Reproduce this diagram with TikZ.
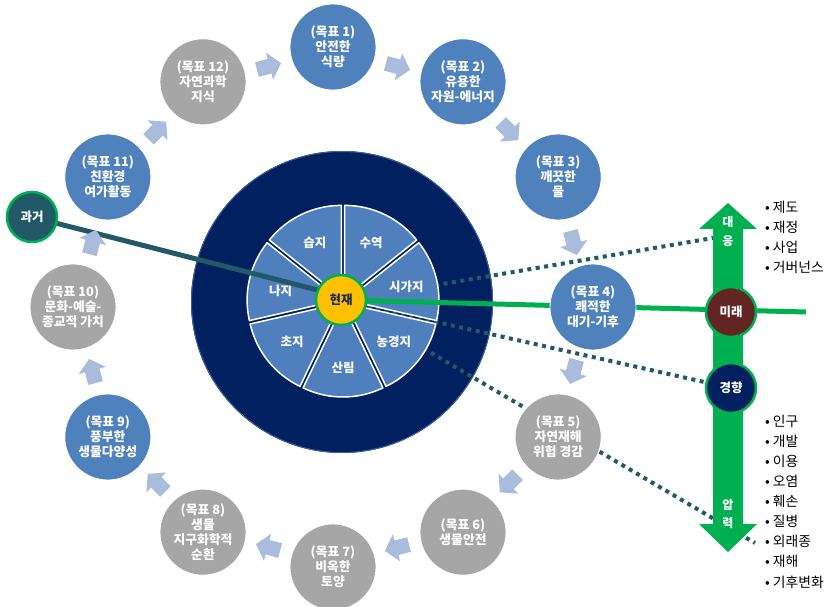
\documentclass[tikz,border=0pt]{standalone}
\usepackage{fontspec}
\setmainfont{Noto Sans CJK KR}
\usetikzlibrary{calc}

\definecolor{goalblue}{HTML}{4F81BD}
\definecolor{goalgray}{HTML}{A6A6A6}
\definecolor{flowblue}{HTML}{A9BCDC}
\definecolor{deepnavy}{HTML}{002060}
\definecolor{rimblue}{HTML}{3A5F98}
\definecolor{sectorblue}{HTML}{4F7FBC}
\definecolor{pastteal}{HTML}{215A66}
\definecolor{ecogreen}{HTML}{00B050}
\definecolor{nowyellow}{HTML}{FFC000}
\definecolor{nowtext}{HTML}{1A2A5A}
\definecolor{futurered}{HTML}{632523}

\tikzset{
  goal/.style={circle, minimum size=86pt, inner sep=0pt, draw=white, line width=0.8pt,
    text=white, align=center, font=\fontsize{12.8}{15}\selectfont\bfseries},
  bluegoal/.style={goal, fill=goalblue},
  graygoal/.style={goal, fill=goalgray},
  sector/.style={fill=sectorblue, draw=white, line width=1.5pt, line join=round},
  sectorlabel/.style={text=white, inner sep=0pt, font=\fontsize{12.5}{14}\selectfont\bfseries},
  timecircle/.style={circle, minimum size=50pt, inner sep=0pt, draw=ecogreen, line width=2.5pt,
    text=white, font=\fontsize{12.5}{14}\selectfont\bfseries},
  flowarrow/.style={fill=flowblue},
  dotline/.style={pastteal, line width=4pt, dash pattern=on 4pt off 4.5pt},
  arrowtext/.style={text=white, inner sep=0pt, font=\fontsize{12}{14}\selectfont\bfseries},
  listitem/.style={anchor=west, inner sep=0pt, font=\fontsize{13.8}{15}\selectfont},
}

\begin{document}
\begin{tikzpicture}[x=1pt,y=1pt]
\useasboundingbox (0,0) rectangle (827,606);

% reference points
\coordinate (O) at (333,299);      % centre of the ring of goals
\coordinate (W) at (343,305);      % centre of the land-use wheel
\coordinate (nowc) at (341,306);
\coordinate (pastend) at (341,310);
\coordinate (pastc) at (32,389);
\coordinate (futurec) at (731,294);
\coordinate (trendc) at (731,218);
\coordinate (greenend) at (806,294);
\coordinate (d1e) at (713,368);
\coordinate (d3e) at (755,63);

% dark outer disc
\fill[deepnavy] (342,304) circle[radius=151];
\draw[rimblue, line width=1pt] (342,304) circle[radius=150.5];

% dotted links from the present
\draw[dotline] (W) -- (d1e);
\draw[dotline] (W) -- (trendc);
\draw[dotline] (W) -- (d3e);

% land-use wheel: seven exploded sectors
\foreach \lbl/\rr [count=\k from 0] in {수역/65,시가지/65,농경지/65,산림/67,초지/65,나지/64,습지/65}{
  \pgfmathsetmacro{\ta}{90-(\k+1)*360/7}
  \pgfmathsetmacro{\tm}{\ta+180/7}
  \filldraw[sector] ($(W)+(\tm:4)$) -- ++(\ta:92)
     arc[start angle=\ta, delta angle=360/7, radius=92] -- cycle;
  \ifnum\k=5
    \node[sectorlabel] (s\k) at ($(W)+(\tm:\rr)+(0,-4)$) {\lbl};
  \else
    \node[sectorlabel] (s\k) at ($(W)+(\tm:\rr)$) {\lbl};
  \fi
}

% time lines
\draw[pastteal, line width=5pt] (pastc) -- (pastend);
\draw[ecogreen, line width=5pt] (nowc) -- (greenend);

% goals
\node[bluegoal] (g1)  at ($(O)+(90:260)$)  {(목표 1)\\안전한\\식량};
\node[bluegoal] (g2)  at ($(O)+(60:260)$)  {(목표 2)\\유용한\\자원-에너지};
\node[bluegoal] (g3)  at ($(O)+(30:260)$)  {(목표 3)\\깨끗한\\물};
\node[bluegoal] (g4)  at ($(O)+(0:260)$)   {(목표 4)\\쾌적한\\대기-기후};
\node[graygoal] (g5)  at ($(O)+(-30:260)$) {(목표 5)\\자연재해\\위험 경감};
\node[graygoal] (g6)  at ($(O)+(-60:260)$) {(목표 6)\\생물안전};
\node[graygoal] (g7)  at ($(O)+(-90:260)$) {(목표 7)\\비옥한\\토양};
\node[graygoal] (g8)  at ($(O)+(-120:260)$) {(목표 8)\\생물\\지구화학적\\순환};
\node[bluegoal] (g9)  at ($(O)+(-150:260)$) {(목표 9)\\풍부한\\생물다양성};
\node[graygoal] (g10) at ($(O)+(180:260)$) {(목표 10)\\문화-예술-\\종교적 가치};
\node[bluegoal] (g11) at ($(O)+(150:260)$) {(목표 11)\\친환경\\여가활동};
\node[graygoal] (g12) at ($(O)+(120:260)$) {(목표 12)\\자연과학\\지식};

% clockwise block arrows between goals
\foreach \a in {105,75,45,15,-15,-45,-75,-105,-135,-165,165,135}{
  \fill[flowarrow, shift={($(O)+(\a:249)$)}, rotate={\a-90}]
    (-12,-7.5) -- (1,-7.5) -- (1,-14) -- (13,0) -- (1,14) -- (1,7.5) -- (-12,7.5) -- cycle;
}

% response / pressure double arrow
\fill[ecogreen] (713,82) -- (713,377) -- (699,377) -- (728,403) -- (757,377)
  -- (743,377) -- (743,82) -- (757,82) -- (728,54) -- (699,82) -- cycle;
\node[arrowtext] (resp1) at (728,384) {대};
\node[arrowtext] (resp2) at (728,365) {응};
\node[arrowtext] (pres1) at (728,101) {압};
\node[arrowtext] (pres2) at (728,83) {력};

% time circles
\node[timecircle, fill=pastteal] (past) at (pastc) {과거};
\node[timecircle, fill=nowyellow, text=nowtext] (now) at (nowc) {현재};
\node[timecircle, fill=futurered] (future) at (futurec) {미래};
\node[timecircle, fill=deepnavy] (trend) at (trendc) {경향};

% lists
\foreach \t [count=\i from 0] in {제도,재정,사업,거버넌스}
  \node[listitem] (r\i) at (765,{399-20*\i}) {• \t};
\foreach \t [count=\i from 0] in {인구,개발,이용,오염,훼손,질병,외래종,재해,기후변화}
  \node[listitem] (p\i) at (765,{185-20.1*\i}) {• \t};
\end{tikzpicture}
\end{document}
